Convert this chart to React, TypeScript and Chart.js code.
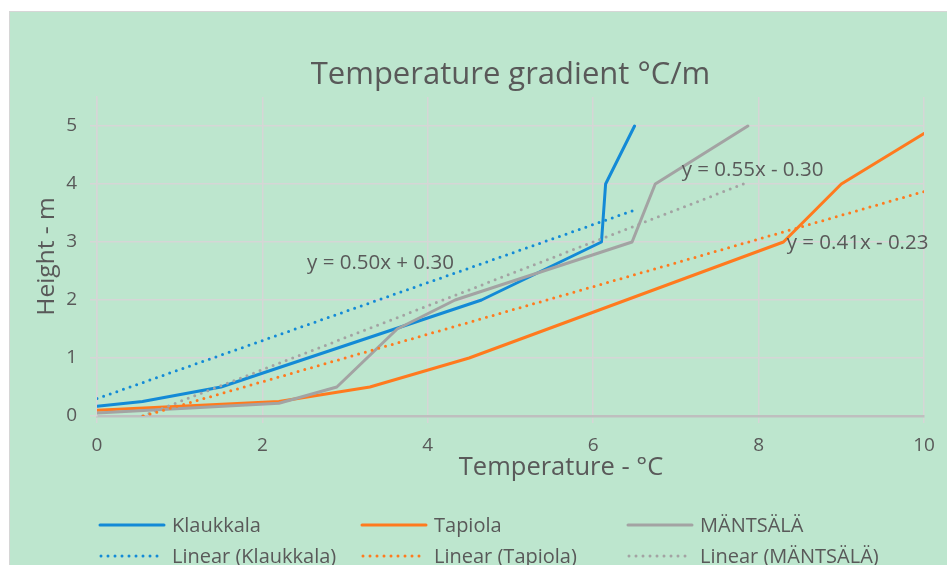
import React, { useEffect, useRef } from 'react';
import { Chart, registerables } from 'chart.js';

Chart.register(...registerables);

// ---- data ----
const klaukkalaTemp = [0, 0.55, 1.5, 4.65, 6.1, 6.15, 6.5];
const klaukkalaHeight = [0.17, 0.25, 0.5, 2.0, 3.0, 4.0, 5.0];
const tapiolaTemp = [0, 2.2, 3.3, 4.5, 8.3, 9.0, 10.0];
const tapiolaHeight = [0.1, 0.25, 0.5, 1.0, 3.0, 4.0, 4.87];
const mantsalaTemp = [0, 2.2, 2.9, 3.63, 4.33, 6.47, 6.75, 7.87];
const mantsalaHeight = [0.05, 0.22, 0.5, 1.5, 2.0, 3.0, 4.0, 5.0];

const klaukkalaTrendTemp = [0, 6.5];
const klaukkalaTrendHeight = [0.3, 3.55];
const tapiolaTrendTemp = [0.56, 10];
const tapiolaTrendHeight = [0, 3.87];
const mantsalaTrendTemp = [0.55, 7.87];
const mantsalaTrendHeight = [0, 4.03];

const seriesNames = ['Klaukkala', 'Tapiola', 'MÄNTSÄLÄ'];
const trendNames = ['Linear (Klaukkala)', 'Linear (Tapiola)', 'Linear (MÄNTSÄLÄ)'];
const equations = ['y = 0.50x + 0.30', 'y = 0.41x - 0.23', 'y = 0.55x - 0.30'];
const equationTemp = [2.54, 8.34, 7.07];
const equationHeight = [2.64, 2.98, 4.24];

const titleText = 'Temperature gradient °C/m';
const xTitle = 'Temperature - °C';
const yTitle = 'Height - m';

// ---- styles ----
const COLORS = ['#138AD6', '#FF7A1E', '#A3A3A3'];
const TEXT = '#595959';
const FONT = "'Open Sans', sans-serif";

const pts = (xs: number[], ys: number[]) => xs.map((x, i) => ({ x, y: ys[i] }));

export default function App() {
  const ref = useRef<HTMLCanvasElement | null>(null);

  useEffect(() => {
    document.body.style.margin = '0';
    const canvas = ref.current!;
    const solid = (label: string, data: any, color: string) => ({
      label, data, borderColor: color, backgroundColor: color, borderWidth: 3,
      pointRadius: 0, tension: 0, fill: false, borderCapStyle: 'round', borderJoinStyle: 'round',
    });
    const dotted = (label: string, data: any, color: string) => ({
      label, data, borderColor: color, backgroundColor: color, borderWidth: 3,
      pointRadius: 0, tension: 0, fill: false, borderDash: [0, 7], borderCapStyle: 'round',
    });

    const bgPlugin = {
      id: 'bg',
      beforeDraw(chart: any) {
        const c = chart.ctx;
        c.save();
        c.fillStyle = '#ffffff';
        c.fillRect(0, 0, chart.width, chart.height);
        c.fillStyle = '#D6D6D6';
        c.fillRect(9, 11, chart.width, chart.height);
        c.fillStyle = '#BDE6CE';
        c.fillRect(10, 12, chart.width, chart.height);
        c.restore();
      },
    };

    const overlayPlugin = {
      id: 'overlay',
      afterDraw(chart: any) {
        const c = chart.ctx;
        const xs = chart.scales.x;
        const ys = chart.scales.y;
        const area = chart.chartArea;
        c.save();
        c.fillStyle = TEXT;
        // title, centred over the plot area
        c.font = `31px ${FONT}`;
        c.textAlign = 'center';
        c.textBaseline = 'middle';
        c.fillText(titleText, (area.left + area.right) / 2, 75);
        // x-axis title
        c.font = `25.5px ${FONT}`;
        c.fillText(xTitle, 561, 468);

        c.font = `20.5px ${FONT}`;
        c.textAlign = 'left';
        c.textBaseline = 'middle';
        equations.forEach((t, i) => {
          c.fillText(t, xs.getPixelForValue(equationTemp[i]), ys.getPixelForValue(equationHeight[i]));
        });
        // legend
        c.font = `20px ${FONT}`;
        const cols = [100, 362, 628];
        const rows = [525, 556];
        for (let i = 0; i < 3; i++) {
          for (let r = 0; r < 2; r++) {
            const x0 = cols[i];
            const y0 = rows[r];
            c.beginPath();
            c.strokeStyle = COLORS[i];
            c.lineWidth = 3;
            c.lineCap = 'round';
            if (r === 0) {
              c.setLineDash([]);
              c.moveTo(x0, y0);
              c.lineTo(x0 + 64, y0);
            } else {
              c.setLineDash([0, 7]);
              c.moveTo(x0 + 1, y0);
              c.lineTo(x0 + 60, y0);
            }
            c.stroke();
            c.setLineDash([]);
            c.fillStyle = TEXT;
            c.fillText(r === 0 ? seriesNames[i] : trendNames[i], x0 + 72, y0 + 1);
          }
        }
        c.restore();
      },
    };

    const chart = new Chart(canvas, {
      type: 'line',
      data: {
        datasets: [
          dotted(trendNames[0], pts(klaukkalaTrendTemp, klaukkalaTrendHeight), COLORS[0]),
          dotted(trendNames[1], pts(tapiolaTrendTemp, tapiolaTrendHeight), COLORS[1]),
          dotted(trendNames[2], pts(mantsalaTrendTemp, mantsalaTrendHeight), COLORS[2]),
          solid(seriesNames[2], pts(mantsalaTemp, mantsalaHeight), COLORS[2]),
          solid(seriesNames[1], pts(tapiolaTemp, tapiolaHeight), COLORS[1]),
          solid(seriesNames[0], pts(klaukkalaTemp, klaukkalaHeight), COLORS[0]),
        ] as any,
      },
      options: {
        animation: false,
        responsive: false,
        devicePixelRatio: 1,
        layout: { padding: { left: 0, right: 23, top: 97, bottom: 0 } },
        plugins: {
          legend: { display: false },
          tooltip: { enabled: false },
          title: { display: false },
        },
        scales: {
          x: {
            type: 'linear',
            min: 0,
            max: 10,
            ticks: { stepSize: 2, color: TEXT, font: { family: FONT, size: 19 }, padding: 11 },
            grid: { color: '#D6D6D6', lineWidth: 1.5, tickLength: 7, drawTicks: true },
            border: { color: '#BFBFBF', width: 2.5 },
            title: { display: false },
            afterFit(s: any) { s.height = 149; },
          },
          y: {
            type: 'linear',
            min: 0,
            max: 5.5,
            ticks: { stepSize: 1, includeBounds: false, color: TEXT, font: { family: FONT, size: 19 }, padding: 13 },
            grid: { color: '#D6D6D6', lineWidth: 1.5, tickLength: 7, drawTicks: true },
            border: { color: '#D6D6D6', width: 1.5 },
            title: {
              display: true, text: yTitle, color: TEXT,
              font: { family: FONT, size: 24.5 }, padding: { top: 32, bottom: 0 },
            },
            afterFit(s: any) { s.width = 97; },
          },
        },
      } as any,
      plugins: [bgPlugin, overlayPlugin],
    });
    return () => chart.destroy();
  }, []);

  return (
    <div style={{ position: 'absolute', left: 0, top: 0, width: 947, height: 565 }}>
      <canvas ref={ref} width={947} height={565} style={{ width: 947, height: 565, display: 'block' }} />
    </div>
  );
}
